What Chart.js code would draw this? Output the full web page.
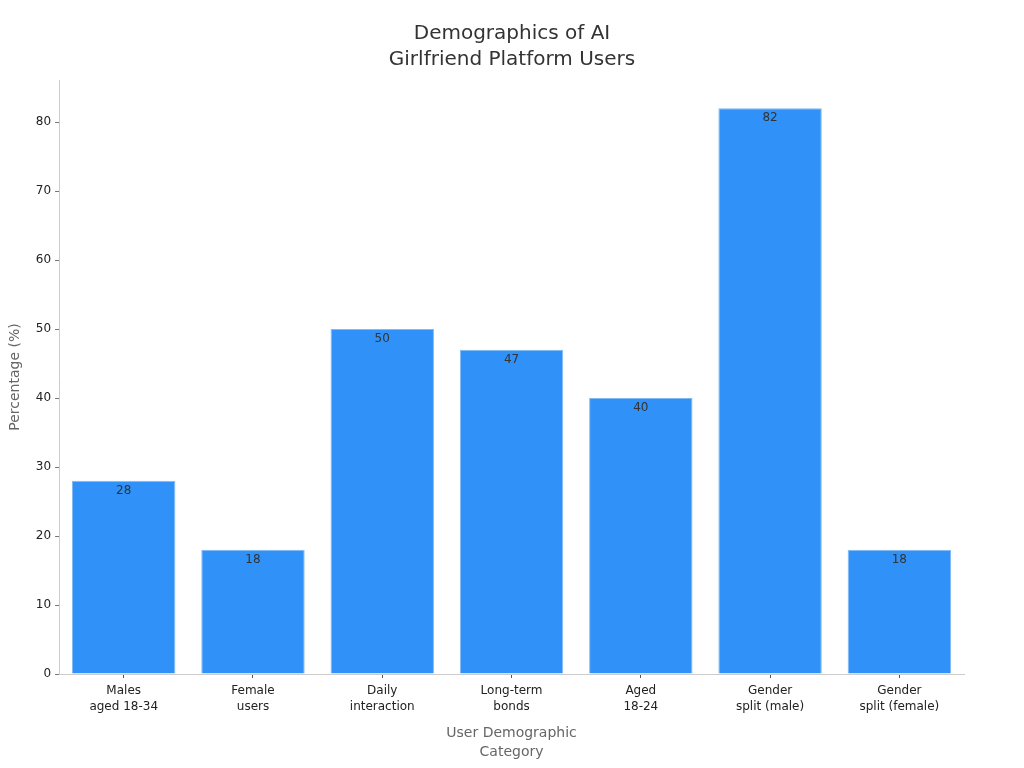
<!DOCTYPE html>
<html>
<head>
<meta charset="utf-8">
<script src="https://cdn.jsdelivr.net/npm/chart.js@4"></script>
<style>
  html, body { margin: 0; padding: 0; background: #fff; }
  canvas { display: block; }
</style>
</head>
<body>
<canvas id="chart" width="1024" height="768"></canvas>
<script>
// Datos del gráfico
const categories = [
    ['Males', 'aged 18-34'],
    ['Female', 'users'],
    ['Daily', 'interaction'],
    ['Long-term', 'bonds'],
    ['Aged', '18-24'],
    ['Gender', 'split (male)'],
    ['Gender', 'split (female)']
];
const percentages = [28, 18, 50, 47, 40, 82, 18];
const titleLines = ['Demographics of AI', 'Girlfriend Platform Users'];
const yTickStep = 10;

const FONT = 'DejaVu Sans, sans-serif';

// Título centrado sobre el lienzo completo
const canvasTitle = {
    id: 'canvasTitle',
    afterDraw(chart) {
        const ctx = chart.ctx;
        ctx.save();
        ctx.font = '20px ' + FONT;
        ctx.fillStyle = '#333333';
        ctx.textAlign = 'center';
        ctx.textBaseline = 'middle';
        titleLines.forEach((line, i) => {
            ctx.fillText(line, chart.width / 2, 34 + i * 26);
        });
        ctx.restore();
    }
};

// Etiquetas de valor dentro de la parte superior de cada barra
const valueLabels = {
    id: 'valueLabels',
    afterDatasetsDraw(chart) {
        const ctx = chart.ctx;
        const meta = chart.getDatasetMeta(0);
        ctx.save();
        ctx.font = '12px ' + FONT;
        ctx.fillStyle = '#333333';
        ctx.textAlign = 'center';
        ctx.textBaseline = 'top';
        meta.data.forEach((bar, i) => {
            ctx.fillText(String(percentages[i]), bar.x, bar.y + 4);
        });
        ctx.restore();
    }
};

new Chart(document.getElementById('chart'), {
    type: 'bar',
    data: {
        labels: categories,
        datasets: [{
            data: percentages,
            backgroundColor: 'rgb(48, 146, 248)',
            borderColor: 'rgb(130, 185, 240)',
            borderWidth: 1,
            categoryPercentage: 0.8,
            barPercentage: 1.0
        }]
    },
    options: {
        responsive: false,
        animation: false,
        layout: { padding: { left: 3, right: 60, top: 80, bottom: 2 } },
        plugins: {
            legend: { display: false },
            tooltip: { enabled: false },
            title: { display: false }
        },
        scales: {
            x: {
                border: { display: true, color: '#cccccc' },
                grid: { display: true, offset: false, drawOnChartArea: false, tickLength: 4, color: '#555555' },
                ticks: { color: '#222222', font: { family: FONT, size: 12, lineHeight: 1.3 }, maxRotation: 0, padding: 5 },
                title: {
                    display: true,
                    text: ['User Demographic', 'Category'],
                    color: '#666666',
                    font: { family: FONT, size: 14, lineHeight: 1.35 },
                    padding: { top: 5 }
                }
            },
            y: {
                min: 0,
                max: 86.1,
                border: { display: true, color: '#cccccc' },
                grid: { display: true, drawOnChartArea: false, tickLength: 4, color: '#777777' },
                ticks: { stepSize: yTickStep, color: '#222222', font: { family: FONT, size: 12 }, padding: 4 },
                afterBuildTicks(scale) {
                    scale.ticks = scale.ticks.filter(t => t.value % yTickStep === 0);
                },
                title: {
                    display: true,
                    text: 'Percentage (%)',
                    color: '#666666',
                    font: { family: FONT, size: 14 },
                    padding: { bottom: 8 }
                }
            }
        }
    },
    plugins: [valueLabels, canvasTitle]
});
</script>
</body>
</html>
